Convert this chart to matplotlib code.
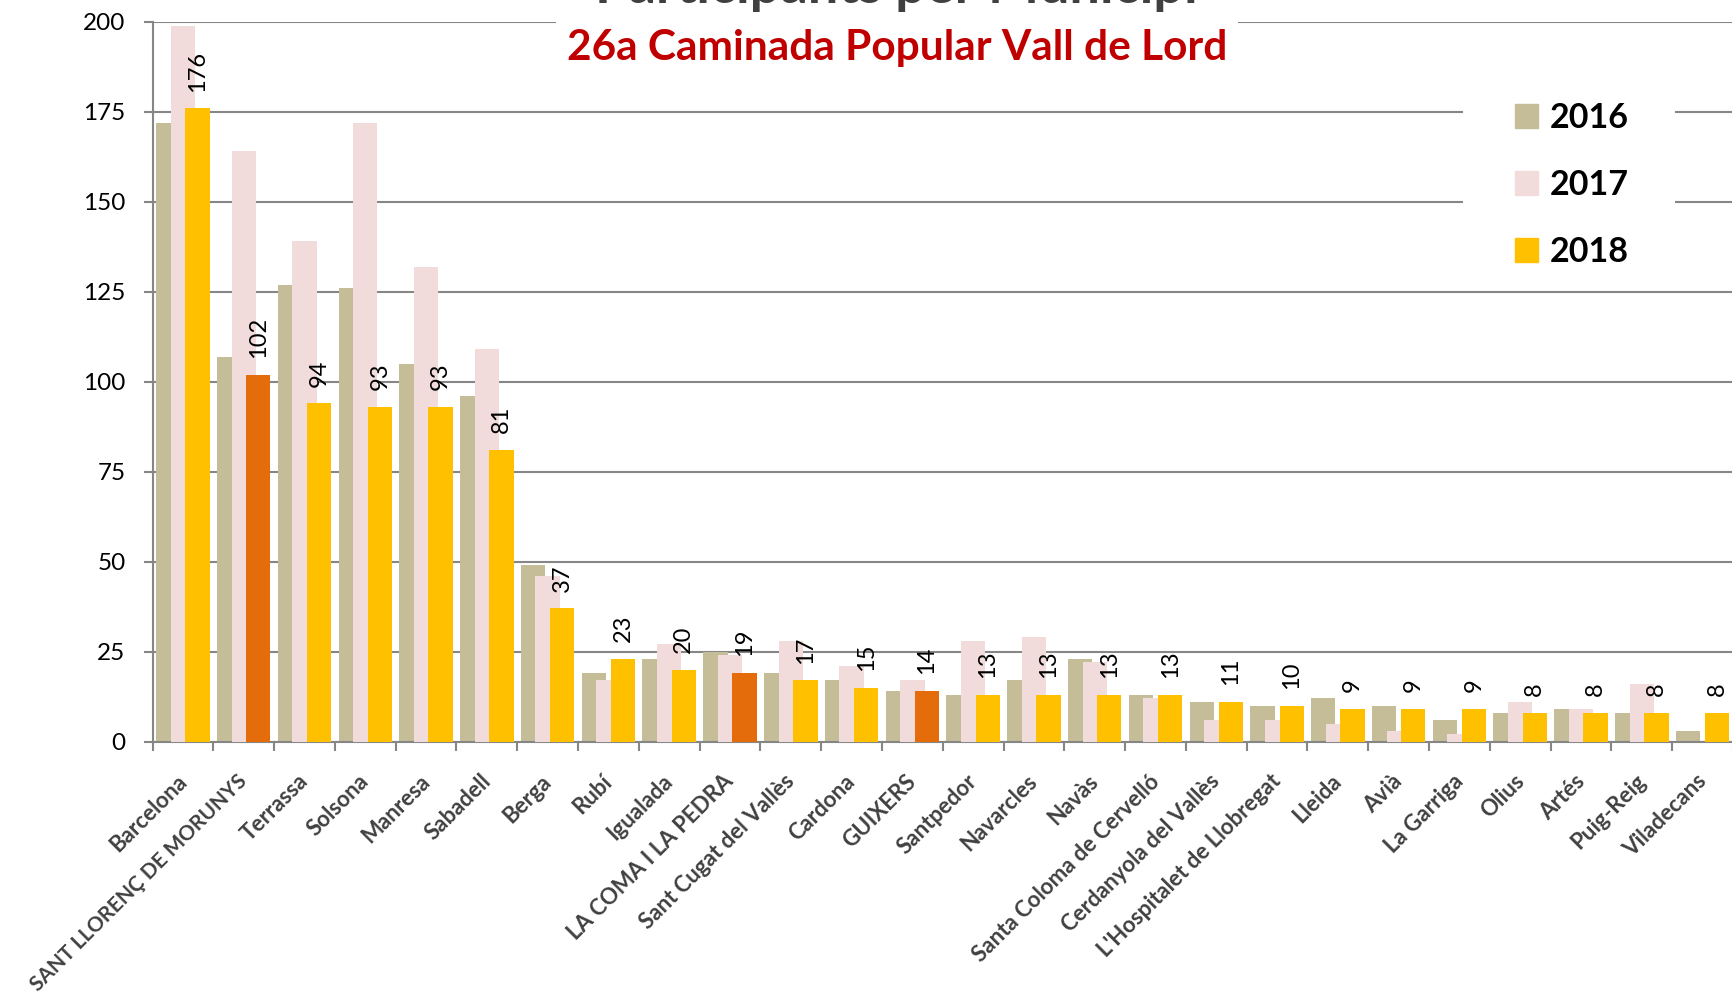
import numpy as np
import matplotlib.pyplot as plt
import matplotlib.transforms as mtransforms
from matplotlib.patches import Rectangle, Patch

# participants per municipality, 3 editions
municipis = ['Barcelona', 'SANT LLORENÇ DE MORUNYS', 'Terrassa', 'Solsona', 'Manresa',
             'Sabadell', 'Berga', 'Rubí', 'Igualada', 'LA COMA I LA PEDRA',
             'Sant Cugat del Vallès', 'Cardona', 'GUIXERS', 'Santpedor', 'Navarcles',
             'Navàs', 'Santa Coloma de Cervelló', 'Cerdanyola del Vallès',
             "L'Hospitalet de Llobregat", 'Lleida', 'Avià', 'La Garriga', 'Olius',
             'Artés', 'Puig-Reig', 'Viladecans']
valors_2016 = [172, 107, 127, 126, 105, 96, 49, 19, 23, 25, 19, 17, 14, 13, 17,
               23, 13, 11, 10, 12, 10, 6, 8, 9, 8, 3]
valors_2017 = [199, 164, 139, 172, 132, 109, 46, 17, 27, 24, 28, 21, 17, 28, 29,
               22, 12, 6, 6, 5, 3, 2, 11, 9, 16, 0]
valors_2018 = [176, 102, 94, 93, 93, 81, 37, 23, 20, 19, 17, 15, 14, 13, 13,
               13, 13, 11, 10, 9, 9, 9, 8, 8, 8, 8]
# local villages highlighted in orange
destacats = ['SANT LLORENÇ DE MORUNYS', 'LA COMA I LA PEDRA', 'GUIXERS']
anys = ['2016', '2017', '2018']

c16 = '#C4BD97'
c17 = '#F2DCDB'
c18 = '#FFC000'
c_dest = '#E46C0A'
gris = '#868686'

plt.rcParams['font.family'] = ['Lato', 'DejaVu Sans']

fig = plt.figure(figsize=(17.33, 9.98), dpi=100)
ax = fig.add_axes([0.088, 0.257, 0.912, 0.721])

x = np.arange(len(municipis))
w = 0.4
off = 0.24
colors_2018 = [c_dest if m in destacats else c18 for m in municipis]

ax.bar(x - off, valors_2016, w, color=c16, zorder=2)
ax.bar(x, valors_2017, w, color=c17, zorder=3)
ax.bar(x + off, valors_2018, w, color=colors_2018, zorder=4)

# value labels only for 2018
for xi, v in zip(x, valors_2018):
    ax.annotate(str(v), (xi + off, v), xytext=(0, 12), textcoords='offset points',
                rotation=90, ha='center', va='bottom', fontsize=17, zorder=5)

ax.set_xlim(-0.5, len(municipis) - 0.5)
ax.set_ylim(0, 200)
ax.set_yticks(np.arange(0, 201, 25))
ax.tick_params(axis='y', labelsize=17.5, length=6.5, width=1.5, color=gris, pad=13)
ax.yaxis.grid(True, color=gris, lw=1.5, zorder=0)
ax.set_axisbelow(True)

ax.set_xticks(x)
ax.set_xticklabels(municipis, rotation=45, ha='right', rotation_mode='anchor',
                   fontweight='bold', color='#404040', fontsize=16)
ax.set_xticks(np.arange(-0.5, len(municipis)), minor=True)
ax.tick_params(axis='x', which='major', length=0, pad=21)
ax.tick_params(axis='x', which='minor', length=6.5, width=1.5, color=gris)
shift = mtransforms.ScaledTranslation(-0.07, 0, fig.dpi_scale_trans)
for lab in ax.get_xticklabels():
    lab.set_transform(lab.get_transform() + shift)
    # the long capitals label runs off the left edge otherwise
    if lab.get_text() == 'SANT LLORENÇ DE MORUNYS':
        lab.set_fontsize(15)

for s in ['top', 'right']:
    ax.spines[s].set_visible(False)
for s in ['left', 'bottom']:
    ax.spines[s].set_color(gris)
    ax.spines[s].set_linewidth(1.5)

# white boxes behind the titles and the legend
fig.patches.append(Rectangle((0.3208, 0.93), 0.3935, 0.08, transform=fig.transFigure,
                             facecolor='white', edgecolor='none', zorder=4))
fig.patches.append(Rectangle((0.8442, 0.7124), 0.1223, 0.2104, transform=fig.transFigure,
                             facecolor='white', edgecolor='none', zorder=4))
fig.text(0.5175, 0.9965, 'Participants per Municipi', ha='center', va='baseline',
         fontsize=39, fontweight='bold', color='#404040', zorder=6)
fig.text(0.5175, 0.940, '26a Caminada Popular Vall de Lord', ha='center', va='baseline',
         fontsize=30.5, fontweight='bold', color='#C00000', zorder=6)

handles = [Patch(color=c16), Patch(color=c17), Patch(color=c18)]
leg = fig.legend(handles, anys, loc='upper left', bbox_to_anchor=(0.8742, 0.8978),
                 frameon=False, prop={'weight': 'bold', 'size': 24.5},
                 handlelength=0.68, handleheight=0.68, handletextpad=0.35,
                 labelspacing=1.03, borderpad=0, borderaxespad=0)
leg.set_zorder(6)

plt.savefig('out.png', dpi=100)
